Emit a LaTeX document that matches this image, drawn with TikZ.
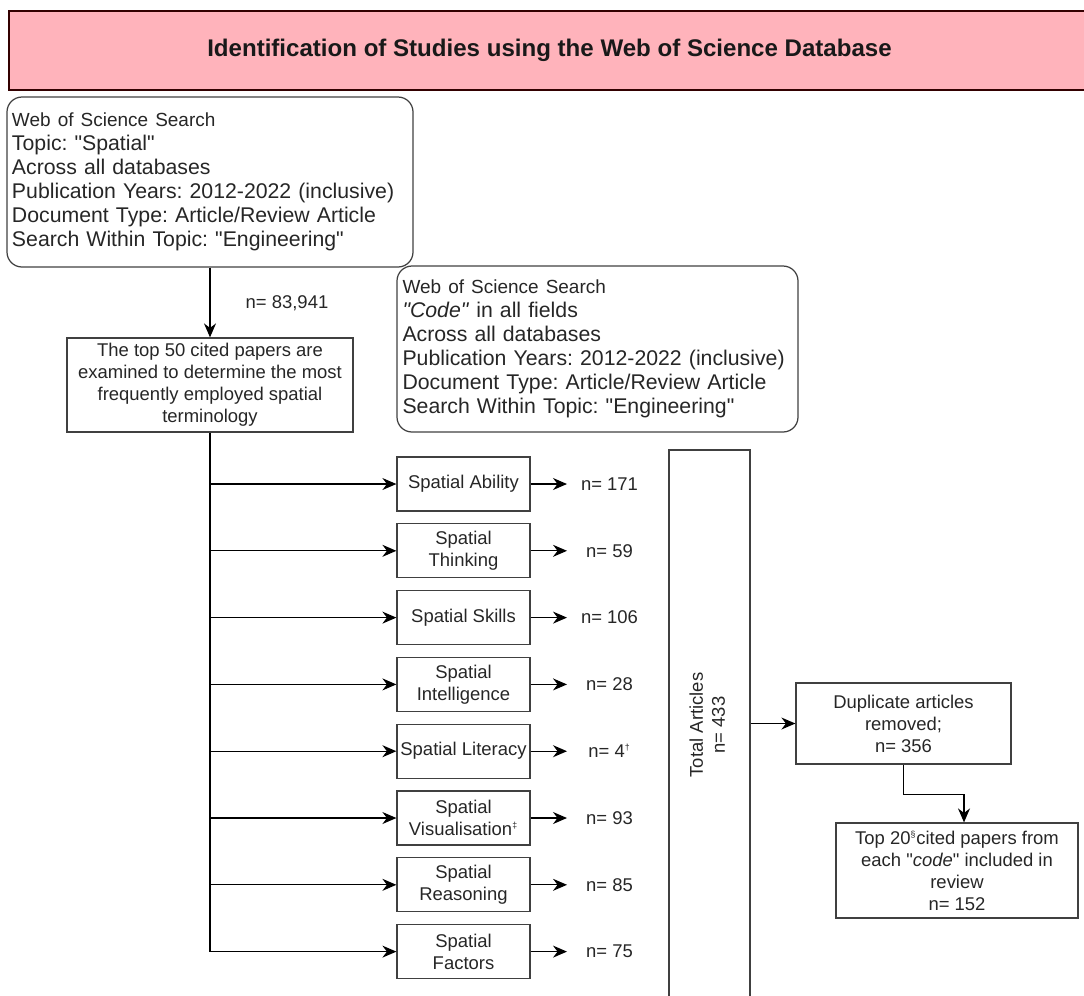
\documentclass[tikz,border=0pt]{standalone}
\usepackage{fontspec}
\setmainfont{Liberation Sans}
\usetikzlibrary{arrows.meta}
\definecolor{titlepink}{HTML}{FFB3BB}
\frenchspacing
\hyphenpenalty=10000
\newcommand{\wos}{{\fontsize{10.8}{13.7}\selectfont Web of Science Search}}
\newcommand{\fnmark}[1]{\textsuperscript{\fontsize{5}{5}\selectfont #1}}
\newcommand{\qt}[1]{\textquotedbl#1\textquotedbl}

\begin{document}
\begin{tikzpicture}[x=0.2mm, y=-0.2mm,
    box/.style={draw=black!75, line width=0.7pt, text=black!85, align=center, inner sep=0.5mm,
        font=\fontsize{10.5}{12.5}\selectfont},
    search/.style={box, rounded corners=3mm, align=left, inner xsep=1mm,
        font=\fontsize{12.1}{13.7}\selectfont},
    titlebox/.style={draw=black!80!red, line width=1.6pt, fill=titlepink, text=black!90,
        font=\bfseries\fontsize{13.7}{16}\selectfont},
    nlabel/.style={text=black!85, font=\fontsize{10.5}{12.5}\selectfont},
    arr/.style={-{Stealth[length=2.8mm, width=2.4mm]}, line width=0.7pt}]
\useasboundingbox (0,0) rectangle (1084,995);
\node[titlebox, minimum width=216.2mm, minimum height=15.8mm] (title) at (549.5,50.5)
    {Identification of Studies using the Web of Science Database};
\node[search, minimum width=81.2mm, minimum height=34mm, text width=79.2mm] (spatial) at (210,182)
    {\wos\\Topic: \qt{Spatial}\\Across all databases\\Publication Years: 2012-2022 (inclusive)\\
    Document Type: Article/Review Article\\Search Within Topic: \qt{Engineering}};
\node[box, minimum width=57.2mm, minimum height=18.8mm] (top50) at (210,385)
    {The top 50 cited papers are\\examined to determine the most\\frequently employed spatial\\terminology};
\node[nlabel] (nall) at (287,303) {n= 83,941};
\draw[arr] (spatial) -- (top50);
\node[search, minimum width=80.2mm, minimum height=33.2mm, text width=78mm] (code) at (597.5,349)
    {\wos\\\textit{\qt{Code}} in all fields\\Across all databases\\Publication Years: 2012-2022 (inclusive)\\
    Document Type: Article/Review Article\\Search Within Topic: \qt{Engineering}};
\foreach \term/\cnt [count=\i] in {{Spatial Ability}/171, {Spatial\\Thinking}/59, {Spatial Skills}/106,
    {Spatial\\Intelligence}/28, {Spatial Literacy}/{4\fnmark{\textdagger}}, {Spatial\\Visualisation\fnmark{\textdaggerdbl}}/93,
    {Spatial\\Reasoning}/85, {Spatial\\Factors}/75} {
    \node[box, minimum width=26.6mm, minimum height=10.8mm] (t\i) at (463.5,{484+66.8*(\i-1)}) {\term};
    \coordinate (b\i) at (210,{484+66.8*(\i-1)});
    \coordinate (e\i) at (567,{484+66.8*(\i-1)});
    \node[nlabel] (n\i) at (609.5,{484+66.8*(\i-1)}) {n= \cnt};
    \draw[arr] (b\i) -- (t\i);
    \draw[arr] (t\i) -- (e\i);
}
\draw[line width=0.7pt] (top50) -- (b8);
\node[box, minimum width=16.2mm, minimum height=110mm] (total) at (709.5,725)
    {\rotatebox{90}{\begin{tabular}{@{}c@{}}Total Articles\\n= 433\end{tabular}}};
\node[box, minimum width=43mm, minimum height=16.2mm] (dup) at (903.5,723.5)
    {Duplicate articles\\removed;\\n= 356};
\node[box, minimum width=48.4mm, minimum height=19mm] (top20) at (957,870.5)
    {Top 20\fnmark{\textsection}cited papers from\\each \qt{\textit{code}} included in\\review\\n= 152};
\draw[arr] (total.east |- dup.west) -- (dup.west);
\draw[arr] (dup.south) -- ++(0,30) -| ([xshift=1.4mm]top20.north);
\end{tikzpicture}
\end{document}
